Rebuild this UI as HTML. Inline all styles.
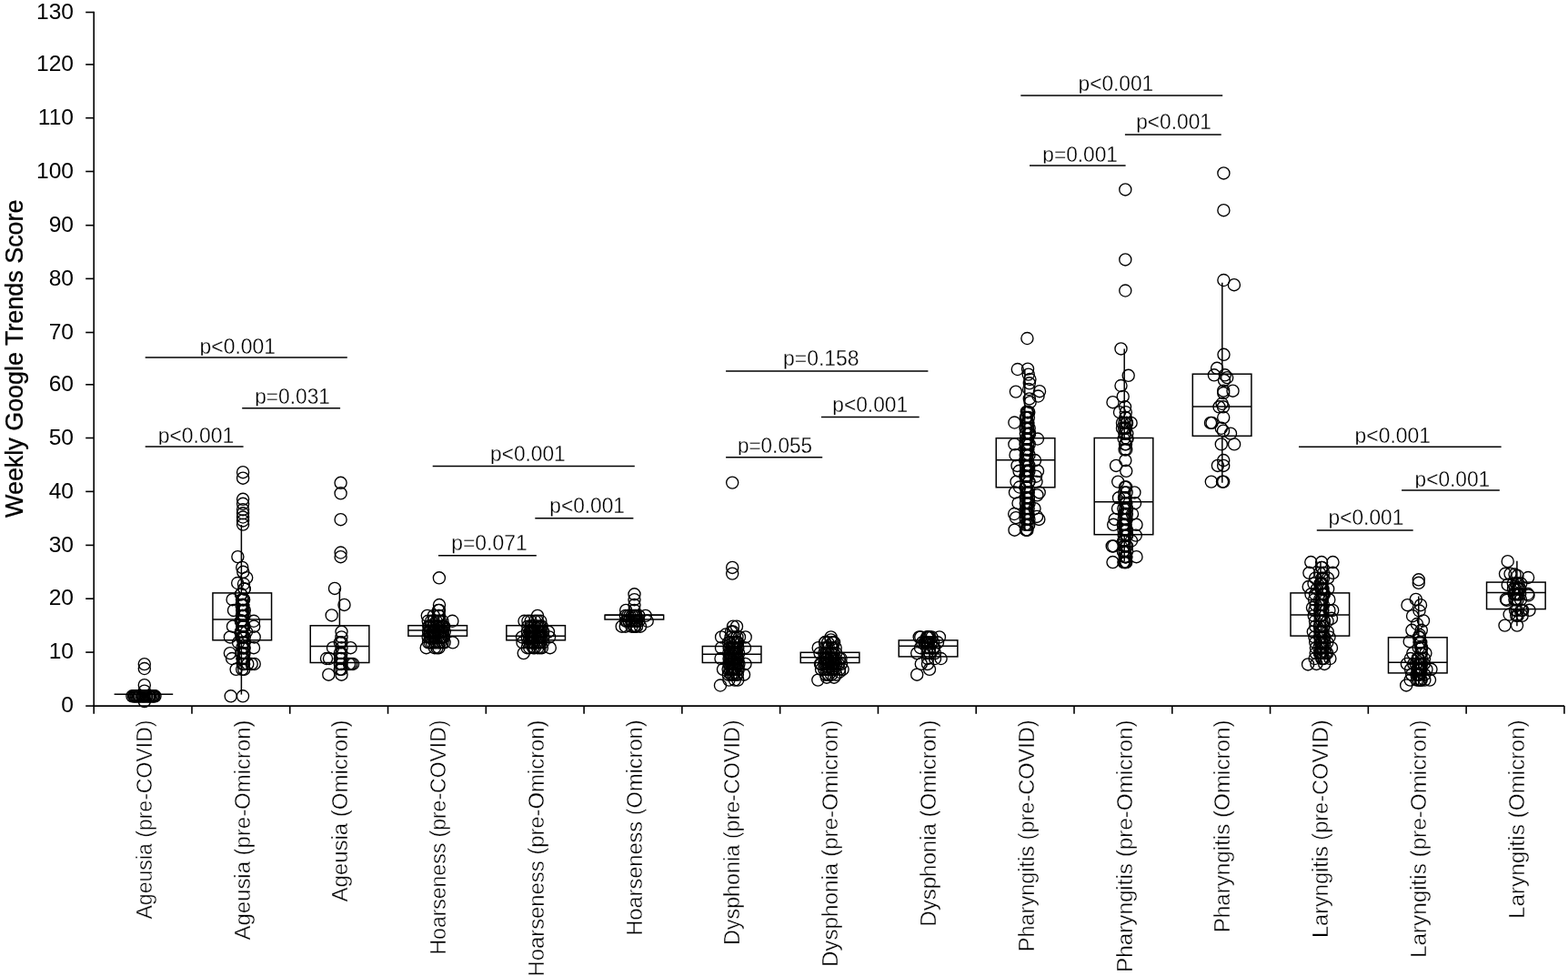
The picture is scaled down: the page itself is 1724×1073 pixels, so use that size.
<!DOCTYPE html>
<html><head><meta charset="utf-8"><title>Weekly Google Trends Score</title>
<style>
html,body{margin:0;padding:0;background:#fff;}
body{width:1724px;height:1073px;overflow:hidden;}
svg{display:block;}
.ax{stroke:#000;stroke-width:1.6;fill:none;}
.bx{stroke:#000;stroke-width:1.5;fill:none;}
.sg{stroke:#000;stroke-width:1.5;}
circle{fill:none;stroke:#000;stroke-width:1.35;}
text{font-family:"Liberation Sans",Arial,sans-serif;fill:#000;}
.tl{font-size:24.6px;}
.xl{font-size:24.4px;stroke:#fff;stroke-width:0.4px;}
.yt{font-size:27px;stroke:#000;stroke-width:0.3px;}
.pv{font-size:23px;stroke:#fff;stroke-width:0.3px;}
</style></head>
<body>
<svg width="1724" height="1073" viewBox="0 0 1724 1073">
<rect width="1724" height="1073" fill="#fff"/>
<line x1="103.2" y1="12.7" x2="103.2" y2="776.1" class="ax"/>
<line x1="94.2" y1="776.10" x2="103.2" y2="776.10" class="ax"/>
<line x1="94.2" y1="717.10" x2="103.2" y2="717.10" class="ax"/>
<line x1="94.2" y1="658.20" x2="103.2" y2="658.20" class="ax"/>
<line x1="94.2" y1="599.40" x2="103.2" y2="599.40" class="ax"/>
<line x1="94.2" y1="540.40" x2="103.2" y2="540.40" class="ax"/>
<line x1="94.2" y1="481.50" x2="103.2" y2="481.50" class="ax"/>
<line x1="94.2" y1="422.80" x2="103.2" y2="422.80" class="ax"/>
<line x1="94.2" y1="365.50" x2="103.2" y2="365.50" class="ax"/>
<line x1="94.2" y1="306.40" x2="103.2" y2="306.40" class="ax"/>
<line x1="94.2" y1="247.70" x2="103.2" y2="247.70" class="ax"/>
<line x1="94.2" y1="188.50" x2="103.2" y2="188.50" class="ax"/>
<line x1="94.2" y1="129.70" x2="103.2" y2="129.70" class="ax"/>
<line x1="94.2" y1="70.90" x2="103.2" y2="70.90" class="ax"/>
<line x1="94.2" y1="13.50" x2="103.2" y2="13.50" class="ax"/>
<line x1="102.3" y1="776.1" x2="1720" y2="776.1" class="ax"/>
<line x1="103.20" y1="776.1" x2="103.20" y2="784.8" class="ax"/>
<line x1="210.98" y1="776.1" x2="210.98" y2="784.8" class="ax"/>
<line x1="318.76" y1="776.1" x2="318.76" y2="784.8" class="ax"/>
<line x1="426.54" y1="776.1" x2="426.54" y2="784.8" class="ax"/>
<line x1="534.32" y1="776.1" x2="534.32" y2="784.8" class="ax"/>
<line x1="642.10" y1="776.1" x2="642.10" y2="784.8" class="ax"/>
<line x1="749.88" y1="776.1" x2="749.88" y2="784.8" class="ax"/>
<line x1="857.66" y1="776.1" x2="857.66" y2="784.8" class="ax"/>
<line x1="965.44" y1="776.1" x2="965.44" y2="784.8" class="ax"/>
<line x1="1073.22" y1="776.1" x2="1073.22" y2="784.8" class="ax"/>
<line x1="1181.00" y1="776.1" x2="1181.00" y2="784.8" class="ax"/>
<line x1="1288.78" y1="776.1" x2="1288.78" y2="784.8" class="ax"/>
<line x1="1396.56" y1="776.1" x2="1396.56" y2="784.8" class="ax"/>
<line x1="1504.34" y1="776.1" x2="1504.34" y2="784.8" class="ax"/>
<line x1="1612.12" y1="776.1" x2="1612.12" y2="784.8" class="ax"/>
<line x1="1719.90" y1="776.1" x2="1719.90" y2="784.8" class="ax"/>
<text x="81" y="783.30" class="tl" text-anchor="end">0</text>
<text x="81" y="724.30" class="tl" text-anchor="end">10</text>
<text x="81" y="665.40" class="tl" text-anchor="end">20</text>
<text x="81" y="606.60" class="tl" text-anchor="end">30</text>
<text x="81" y="547.60" class="tl" text-anchor="end">40</text>
<text x="81" y="488.70" class="tl" text-anchor="end">50</text>
<text x="81" y="430.00" class="tl" text-anchor="end">60</text>
<text x="81" y="372.70" class="tl" text-anchor="end">70</text>
<text x="81" y="313.60" class="tl" text-anchor="end">80</text>
<text x="81" y="254.90" class="tl" text-anchor="end">90</text>
<text x="81" y="195.70" class="tl" text-anchor="end">100</text>
<text x="81" y="136.90" class="tl" text-anchor="end">110</text>
<text x="81" y="78.10" class="tl" text-anchor="end">120</text>
<text x="81" y="20.70" class="tl" text-anchor="end">130</text>
<text transform="translate(25.3,569) rotate(-90)" class="yt" textLength="349.5" lengthAdjust="spacingAndGlyphs">Weekly Google Trends Score</text>
<text transform="translate(166.79,1010.5) rotate(-90)" class="xl" textLength="219.0" lengthAdjust="spacingAndGlyphs">Ageusia (pre-COVID)</text>
<text transform="translate(274.57,1033.5) rotate(-90)" class="xl" textLength="242.0" lengthAdjust="spacingAndGlyphs">Ageusia (pre-Omicron)</text>
<text transform="translate(382.35,991.5) rotate(-90)" class="xl" textLength="200.0" lengthAdjust="spacingAndGlyphs">Ageusia (Omicron)</text>
<text transform="translate(490.13,1049.5) rotate(-90)" class="xl" textLength="258.0" lengthAdjust="spacingAndGlyphs">Hoarseness (pre-COVID)</text>
<text transform="translate(597.91,1073.5) rotate(-90)" class="xl" textLength="282.0" lengthAdjust="spacingAndGlyphs">Hoarseness (pre-Omicron)</text>
<text transform="translate(705.69,1028.7) rotate(-90)" class="xl" textLength="237.2" lengthAdjust="spacingAndGlyphs">Hoarseness (Omicron)</text>
<text transform="translate(813.47,1039.0) rotate(-90)" class="xl" textLength="247.5" lengthAdjust="spacingAndGlyphs">Dysphonia (pre-COVID)</text>
<text transform="translate(921.25,1063.1) rotate(-90)" class="xl" textLength="271.6" lengthAdjust="spacingAndGlyphs">Dysphonia (pre-Omicron)</text>
<text transform="translate(1029.03,1018.7) rotate(-90)" class="xl" textLength="227.2" lengthAdjust="spacingAndGlyphs">Dysphonia (Omicron)</text>
<text transform="translate(1136.81,1046.2) rotate(-90)" class="xl" textLength="254.7" lengthAdjust="spacingAndGlyphs">Pharyngitis (pre-COVID)</text>
<text transform="translate(1244.59,1068.9) rotate(-90)" class="xl" textLength="277.4" lengthAdjust="spacingAndGlyphs">Pharyngitis (pre-Omicron)</text>
<text transform="translate(1352.37,1025.3) rotate(-90)" class="xl" textLength="233.8" lengthAdjust="spacingAndGlyphs">Pharyngitis (Omicron)</text>
<text transform="translate(1460.15,1031.0) rotate(-90)" class="xl" textLength="239.5" lengthAdjust="spacingAndGlyphs">Laryngitis (pre-COVID)</text>
<text transform="translate(1567.93,1053.0) rotate(-90)" class="xl" textLength="261.5" lengthAdjust="spacingAndGlyphs">Laryngitis (pre-Omicron)</text>
<text transform="translate(1675.71,1010.1) rotate(-90)" class="xl" textLength="218.6" lengthAdjust="spacingAndGlyphs">Laryngitis (Omicron)</text>
<line x1="125.60" y1="763.2" x2="190.20" y2="763.2" class="bx"/>
<line x1="265.40" y1="577.0" x2="265.40" y2="651.9" class="bx"/>
<line x1="265.40" y1="703.8" x2="265.40" y2="763.6" class="bx"/>
<rect x="233.95" y="651.9" width="64.60" height="51.90" class="bx"/>
<line x1="233.95" y1="681.0" x2="298.55" y2="681.0" class="bx"/>
<line x1="373.40" y1="646.9" x2="373.40" y2="687.8" class="bx"/>
<rect x="341.25" y="687.8" width="64.60" height="40.70" class="bx"/>
<line x1="341.25" y1="710.6" x2="405.85" y2="710.6" class="bx"/>
<rect x="448.90" y="687.7" width="64.60" height="11.50" class="bx"/>
<line x1="448.90" y1="692.9" x2="513.50" y2="692.9" class="bx"/>
<rect x="556.85" y="687.7" width="64.60" height="16.10" class="bx"/>
<line x1="556.85" y1="699.2" x2="621.45" y2="699.2" class="bx"/>
<rect x="665.05" y="676.2" width="64.60" height="4.80" class="bx"/>
<line x1="665.05" y1="676.2" x2="729.65" y2="676.2" class="bx"/>
<rect x="772.35" y="710.5" width="64.60" height="18.00" class="bx"/>
<line x1="772.35" y1="719.2" x2="836.95" y2="719.2" class="bx"/>
<rect x="880.25" y="717.3" width="64.60" height="11.30" class="bx"/>
<line x1="880.25" y1="722.7" x2="944.85" y2="722.7" class="bx"/>
<rect x="988.25" y="703.9" width="64.60" height="18.00" class="bx"/>
<line x1="988.25" y1="710.2" x2="1052.85" y2="710.2" class="bx"/>
<line x1="1126.80" y1="406.4" x2="1126.80" y2="481.7" class="bx"/>
<line x1="1126.80" y1="535.8" x2="1126.80" y2="583.0" class="bx"/>
<rect x="1095.25" y="481.7" width="64.60" height="54.10" class="bx"/>
<line x1="1095.25" y1="505.8" x2="1159.85" y2="505.8" class="bx"/>
<line x1="1236.20" y1="383.4" x2="1236.20" y2="481.5" class="bx"/>
<line x1="1236.20" y1="587.7" x2="1236.20" y2="617.0" class="bx"/>
<rect x="1203.20" y="481.5" width="64.60" height="106.20" class="bx"/>
<line x1="1203.20" y1="551.7" x2="1267.80" y2="551.7" class="bx"/>
<line x1="1343.80" y1="310.7" x2="1343.80" y2="411.2" class="bx"/>
<line x1="1343.80" y1="479.3" x2="1343.80" y2="530.7" class="bx"/>
<rect x="1311.30" y="411.2" width="64.60" height="68.10" class="bx"/>
<line x1="1311.30" y1="447.1" x2="1375.90" y2="447.1" class="bx"/>
<line x1="1452.00" y1="617.0" x2="1452.00" y2="651.9" class="bx"/>
<line x1="1452.00" y1="699.1" x2="1452.00" y2="730.4" class="bx"/>
<rect x="1419.00" y="651.9" width="64.60" height="47.20" class="bx"/>
<line x1="1419.00" y1="676.0" x2="1483.60" y2="676.0" class="bx"/>
<line x1="1559.80" y1="655.6" x2="1559.80" y2="700.8" class="bx"/>
<line x1="1559.80" y1="739.9" x2="1559.80" y2="753.0" class="bx"/>
<rect x="1526.50" y="700.8" width="64.60" height="39.10" class="bx"/>
<line x1="1526.50" y1="728.3" x2="1591.10" y2="728.3" class="bx"/>
<line x1="1667.90" y1="616.8" x2="1667.90" y2="640.1" class="bx"/>
<line x1="1667.90" y1="669.6" x2="1667.90" y2="688.2" class="bx"/>
<rect x="1634.55" y="640.1" width="64.60" height="29.50" class="bx"/>
<line x1="1634.55" y1="651.6" x2="1699.15" y2="651.6" class="bx"/>
<circle cx="158.80" cy="730.10" r="6.55"/>
<circle cx="158.80" cy="735.00" r="6.55"/>
<circle cx="158.80" cy="753.20" r="6.55"/>
<circle cx="158.80" cy="759.60" r="6.55"/>
<circle cx="158.80" cy="771.10" r="6.55"/>
<circle cx="145.42" cy="765.30" r="6.55"/>
<circle cx="147.05" cy="765.30" r="6.55"/>
<circle cx="147.97" cy="765.30" r="6.55"/>
<circle cx="148.50" cy="765.30" r="6.55"/>
<circle cx="149.71" cy="765.30" r="6.55"/>
<circle cx="150.66" cy="765.30" r="6.55"/>
<circle cx="151.84" cy="765.30" r="6.55"/>
<circle cx="152.95" cy="765.30" r="6.55"/>
<circle cx="153.32" cy="765.30" r="6.55"/>
<circle cx="154.26" cy="765.30" r="6.55"/>
<circle cx="155.97" cy="765.30" r="6.55"/>
<circle cx="156.60" cy="765.30" r="6.55"/>
<circle cx="157.89" cy="765.30" r="6.55"/>
<circle cx="158.20" cy="765.30" r="6.55"/>
<circle cx="159.59" cy="765.30" r="6.55"/>
<circle cx="160.83" cy="765.30" r="6.55"/>
<circle cx="161.38" cy="765.30" r="6.55"/>
<circle cx="163.01" cy="765.30" r="6.55"/>
<circle cx="163.97" cy="765.30" r="6.55"/>
<circle cx="164.18" cy="765.30" r="6.55"/>
<circle cx="165.17" cy="765.30" r="6.55"/>
<circle cx="166.62" cy="765.30" r="6.55"/>
<circle cx="167.97" cy="765.30" r="6.55"/>
<circle cx="168.46" cy="765.30" r="6.55"/>
<circle cx="169.31" cy="765.30" r="6.55"/>
<circle cx="170.48" cy="765.30" r="6.55"/>
<circle cx="267.10" cy="519.20" r="6.55"/>
<circle cx="267.10" cy="525.70" r="6.55"/>
<circle cx="267.10" cy="548.80" r="6.55"/>
<circle cx="267.10" cy="553.80" r="6.55"/>
<circle cx="267.10" cy="560.20" r="6.55"/>
<circle cx="267.10" cy="564.30" r="6.55"/>
<circle cx="267.10" cy="568.50" r="6.55"/>
<circle cx="267.10" cy="572.40" r="6.55"/>
<circle cx="267.10" cy="576.60" r="6.55"/>
<circle cx="261.40" cy="612.10" r="6.55"/>
<circle cx="266.30" cy="623.90" r="6.55"/>
<circle cx="267.30" cy="628.80" r="6.55"/>
<circle cx="271.20" cy="635.10" r="6.55"/>
<circle cx="261.20" cy="641.00" r="6.55"/>
<circle cx="268.00" cy="642.00" r="6.55"/>
<circle cx="268.62" cy="647.44" r="6.55"/>
<circle cx="268.59" cy="647.44" r="6.55"/>
<circle cx="265.03" cy="653.32" r="6.55"/>
<circle cx="265.14" cy="653.32" r="6.55"/>
<circle cx="268.14" cy="659.20" r="6.55"/>
<circle cx="267.74" cy="659.20" r="6.55"/>
<circle cx="267.48" cy="659.20" r="6.55"/>
<circle cx="266.03" cy="659.20" r="6.55"/>
<circle cx="267.22" cy="665.09" r="6.55"/>
<circle cx="267.23" cy="665.09" r="6.55"/>
<circle cx="267.12" cy="665.09" r="6.55"/>
<circle cx="265.43" cy="665.09" r="6.55"/>
<circle cx="266.52" cy="670.98" r="6.55"/>
<circle cx="266.37" cy="670.98" r="6.55"/>
<circle cx="267.69" cy="670.98" r="6.55"/>
<circle cx="268.78" cy="670.98" r="6.55"/>
<circle cx="268.60" cy="676.87" r="6.55"/>
<circle cx="266.98" cy="676.87" r="6.55"/>
<circle cx="266.58" cy="676.87" r="6.55"/>
<circle cx="265.87" cy="676.87" r="6.55"/>
<circle cx="264.94" cy="682.76" r="6.55"/>
<circle cx="264.91" cy="682.76" r="6.55"/>
<circle cx="266.66" cy="682.76" r="6.55"/>
<circle cx="266.07" cy="682.76" r="6.55"/>
<circle cx="266.32" cy="688.65" r="6.55"/>
<circle cx="268.37" cy="688.65" r="6.55"/>
<circle cx="266.90" cy="688.65" r="6.55"/>
<circle cx="267.04" cy="688.65" r="6.55"/>
<circle cx="265.74" cy="694.54" r="6.55"/>
<circle cx="264.90" cy="694.54" r="6.55"/>
<circle cx="266.10" cy="694.54" r="6.55"/>
<circle cx="265.35" cy="694.54" r="6.55"/>
<circle cx="266.84" cy="700.43" r="6.55"/>
<circle cx="268.79" cy="700.43" r="6.55"/>
<circle cx="267.50" cy="700.43" r="6.55"/>
<circle cx="265.53" cy="700.43" r="6.55"/>
<circle cx="268.37" cy="706.32" r="6.55"/>
<circle cx="267.99" cy="706.32" r="6.55"/>
<circle cx="267.74" cy="706.32" r="6.55"/>
<circle cx="268.43" cy="706.32" r="6.55"/>
<circle cx="267.85" cy="712.21" r="6.55"/>
<circle cx="267.96" cy="712.21" r="6.55"/>
<circle cx="266.22" cy="712.21" r="6.55"/>
<circle cx="268.72" cy="712.21" r="6.55"/>
<circle cx="268.65" cy="718.10" r="6.55"/>
<circle cx="265.44" cy="718.10" r="6.55"/>
<circle cx="267.82" cy="718.10" r="6.55"/>
<circle cx="267.66" cy="718.10" r="6.55"/>
<circle cx="266.65" cy="724.00" r="6.55"/>
<circle cx="266.92" cy="724.00" r="6.55"/>
<circle cx="266.76" cy="724.00" r="6.55"/>
<circle cx="268.50" cy="724.00" r="6.55"/>
<circle cx="266.80" cy="729.90" r="6.55"/>
<circle cx="268.13" cy="729.90" r="6.55"/>
<circle cx="266.22" cy="735.80" r="6.55"/>
<circle cx="268.33" cy="735.80" r="6.55"/>
<circle cx="255.60" cy="659.20" r="6.55"/>
<circle cx="257.00" cy="670.98" r="6.55"/>
<circle cx="256.00" cy="688.65" r="6.55"/>
<circle cx="279.20" cy="688.65" r="6.55"/>
<circle cx="279.00" cy="682.76" r="6.55"/>
<circle cx="252.90" cy="700.43" r="6.55"/>
<circle cx="279.70" cy="700.43" r="6.55"/>
<circle cx="252.90" cy="718.10" r="6.55"/>
<circle cx="279.00" cy="712.21" r="6.55"/>
<circle cx="255.10" cy="724.00" r="6.55"/>
<circle cx="259.60" cy="735.80" r="6.55"/>
<circle cx="276.70" cy="729.90" r="6.55"/>
<circle cx="279.70" cy="729.90" r="6.55"/>
<circle cx="272.30" cy="729.90" r="6.55"/>
<circle cx="262.00" cy="706.32" r="6.55"/>
<circle cx="271.00" cy="694.54" r="6.55"/>
<circle cx="253.70" cy="765.30" r="6.55"/>
<circle cx="267.00" cy="765.30" r="6.55"/>
<circle cx="374.60" cy="530.80" r="6.55"/>
<circle cx="374.60" cy="542.30" r="6.55"/>
<circle cx="374.60" cy="571.20" r="6.55"/>
<circle cx="374.60" cy="607.50" r="6.55"/>
<circle cx="374.60" cy="612.20" r="6.55"/>
<circle cx="368.00" cy="646.90" r="6.55"/>
<circle cx="378.50" cy="664.90" r="6.55"/>
<circle cx="364.70" cy="676.40" r="6.55"/>
<circle cx="375.50" cy="694.54" r="6.55"/>
<circle cx="375.50" cy="700.43" r="6.55"/>
<circle cx="375.50" cy="706.32" r="6.55"/>
<circle cx="375.50" cy="712.21" r="6.55"/>
<circle cx="375.50" cy="718.10" r="6.55"/>
<circle cx="375.50" cy="724.00" r="6.55"/>
<circle cx="375.50" cy="729.90" r="6.55"/>
<circle cx="375.50" cy="735.80" r="6.55"/>
<circle cx="375.50" cy="741.70" r="6.55"/>
<circle cx="373.80" cy="706.32" r="6.55"/>
<circle cx="373.80" cy="718.10" r="6.55"/>
<circle cx="373.80" cy="724.00" r="6.55"/>
<circle cx="373.80" cy="735.80" r="6.55"/>
<circle cx="373.80" cy="729.90" r="6.55"/>
<circle cx="385.50" cy="712.21" r="6.55"/>
<circle cx="366.00" cy="712.21" r="6.55"/>
<circle cx="359.00" cy="724.00" r="6.55"/>
<circle cx="362.00" cy="724.00" r="6.55"/>
<circle cx="384.00" cy="729.90" r="6.55"/>
<circle cx="386.00" cy="729.90" r="6.55"/>
<circle cx="388.00" cy="729.90" r="6.55"/>
<circle cx="361.30" cy="741.70" r="6.55"/>
<circle cx="482.90" cy="635.30" r="6.55"/>
<circle cx="483.00" cy="665.09" r="6.55"/>
<circle cx="483.00" cy="670.98" r="6.55"/>
<circle cx="483.00" cy="676.87" r="6.55"/>
<circle cx="482.00" cy="670.98" r="6.55"/>
<circle cx="469.80" cy="676.87" r="6.55"/>
<circle cx="497.40" cy="682.76" r="6.55"/>
<circle cx="468.70" cy="712.21" r="6.55"/>
<circle cx="482.50" cy="712.21" r="6.55"/>
<circle cx="497.80" cy="706.32" r="6.55"/>
<circle cx="470.72" cy="682.76" r="6.55"/>
<circle cx="474.18" cy="682.76" r="6.55"/>
<circle cx="476.47" cy="682.76" r="6.55"/>
<circle cx="479.75" cy="682.76" r="6.55"/>
<circle cx="482.52" cy="682.76" r="6.55"/>
<circle cx="483.87" cy="682.76" r="6.55"/>
<circle cx="486.45" cy="682.76" r="6.55"/>
<circle cx="471.27" cy="688.65" r="6.55"/>
<circle cx="472.03" cy="688.65" r="6.55"/>
<circle cx="473.58" cy="688.65" r="6.55"/>
<circle cx="476.25" cy="688.65" r="6.55"/>
<circle cx="477.08" cy="688.65" r="6.55"/>
<circle cx="479.19" cy="688.65" r="6.55"/>
<circle cx="480.26" cy="688.65" r="6.55"/>
<circle cx="482.07" cy="688.65" r="6.55"/>
<circle cx="482.96" cy="688.65" r="6.55"/>
<circle cx="485.23" cy="688.65" r="6.55"/>
<circle cx="487.15" cy="688.65" r="6.55"/>
<circle cx="488.24" cy="688.65" r="6.55"/>
<circle cx="471.05" cy="694.54" r="6.55"/>
<circle cx="472.42" cy="694.54" r="6.55"/>
<circle cx="473.08" cy="694.54" r="6.55"/>
<circle cx="475.46" cy="694.54" r="6.55"/>
<circle cx="476.70" cy="694.54" r="6.55"/>
<circle cx="477.78" cy="694.54" r="6.55"/>
<circle cx="478.88" cy="694.54" r="6.55"/>
<circle cx="481.44" cy="694.54" r="6.55"/>
<circle cx="482.39" cy="694.54" r="6.55"/>
<circle cx="484.17" cy="694.54" r="6.55"/>
<circle cx="485.84" cy="694.54" r="6.55"/>
<circle cx="487.09" cy="694.54" r="6.55"/>
<circle cx="488.82" cy="694.54" r="6.55"/>
<circle cx="470.64" cy="700.43" r="6.55"/>
<circle cx="472.80" cy="700.43" r="6.55"/>
<circle cx="473.88" cy="700.43" r="6.55"/>
<circle cx="476.16" cy="700.43" r="6.55"/>
<circle cx="477.66" cy="700.43" r="6.55"/>
<circle cx="478.13" cy="700.43" r="6.55"/>
<circle cx="479.77" cy="700.43" r="6.55"/>
<circle cx="481.47" cy="700.43" r="6.55"/>
<circle cx="484.12" cy="700.43" r="6.55"/>
<circle cx="484.95" cy="700.43" r="6.55"/>
<circle cx="486.81" cy="700.43" r="6.55"/>
<circle cx="487.92" cy="700.43" r="6.55"/>
<circle cx="471.07" cy="706.32" r="6.55"/>
<circle cx="472.95" cy="706.32" r="6.55"/>
<circle cx="474.99" cy="706.32" r="6.55"/>
<circle cx="477.55" cy="706.32" r="6.55"/>
<circle cx="479.66" cy="706.32" r="6.55"/>
<circle cx="482.38" cy="706.32" r="6.55"/>
<circle cx="484.07" cy="706.32" r="6.55"/>
<circle cx="486.65" cy="706.32" r="6.55"/>
<circle cx="488.62" cy="706.32" r="6.55"/>
<circle cx="476.82" cy="676.87" r="6.55"/>
<circle cx="482.10" cy="676.87" r="6.55"/>
<circle cx="477.93" cy="712.21" r="6.55"/>
<circle cx="480.50" cy="712.21" r="6.55"/>
<circle cx="591.00" cy="676.87" r="6.55"/>
<circle cx="576.50" cy="682.76" r="6.55"/>
<circle cx="575.70" cy="718.10" r="6.55"/>
<circle cx="604.80" cy="712.21" r="6.55"/>
<circle cx="580.44" cy="682.76" r="6.55"/>
<circle cx="583.61" cy="682.76" r="6.55"/>
<circle cx="588.16" cy="682.76" r="6.55"/>
<circle cx="590.98" cy="682.76" r="6.55"/>
<circle cx="594.30" cy="682.76" r="6.55"/>
<circle cx="580.32" cy="688.65" r="6.55"/>
<circle cx="583.25" cy="688.65" r="6.55"/>
<circle cx="585.04" cy="688.65" r="6.55"/>
<circle cx="586.98" cy="688.65" r="6.55"/>
<circle cx="588.00" cy="688.65" r="6.55"/>
<circle cx="590.57" cy="688.65" r="6.55"/>
<circle cx="592.10" cy="688.65" r="6.55"/>
<circle cx="593.91" cy="688.65" r="6.55"/>
<circle cx="595.79" cy="688.65" r="6.55"/>
<circle cx="579.90" cy="694.54" r="6.55"/>
<circle cx="582.58" cy="694.54" r="6.55"/>
<circle cx="584.08" cy="694.54" r="6.55"/>
<circle cx="585.68" cy="694.54" r="6.55"/>
<circle cx="587.31" cy="694.54" r="6.55"/>
<circle cx="588.05" cy="694.54" r="6.55"/>
<circle cx="589.86" cy="694.54" r="6.55"/>
<circle cx="591.96" cy="694.54" r="6.55"/>
<circle cx="593.75" cy="694.54" r="6.55"/>
<circle cx="595.57" cy="694.54" r="6.55"/>
<circle cx="597.24" cy="694.54" r="6.55"/>
<circle cx="579.69" cy="700.43" r="6.55"/>
<circle cx="581.89" cy="700.43" r="6.55"/>
<circle cx="583.48" cy="700.43" r="6.55"/>
<circle cx="584.76" cy="700.43" r="6.55"/>
<circle cx="585.82" cy="700.43" r="6.55"/>
<circle cx="587.71" cy="700.43" r="6.55"/>
<circle cx="588.70" cy="700.43" r="6.55"/>
<circle cx="591.34" cy="700.43" r="6.55"/>
<circle cx="592.74" cy="700.43" r="6.55"/>
<circle cx="593.81" cy="700.43" r="6.55"/>
<circle cx="594.98" cy="700.43" r="6.55"/>
<circle cx="597.30" cy="700.43" r="6.55"/>
<circle cx="580.52" cy="706.32" r="6.55"/>
<circle cx="582.82" cy="706.32" r="6.55"/>
<circle cx="584.56" cy="706.32" r="6.55"/>
<circle cx="585.81" cy="706.32" r="6.55"/>
<circle cx="587.46" cy="706.32" r="6.55"/>
<circle cx="589.56" cy="706.32" r="6.55"/>
<circle cx="591.09" cy="706.32" r="6.55"/>
<circle cx="592.45" cy="706.32" r="6.55"/>
<circle cx="594.48" cy="706.32" r="6.55"/>
<circle cx="597.11" cy="706.32" r="6.55"/>
<circle cx="579.73" cy="712.21" r="6.55"/>
<circle cx="582.31" cy="712.21" r="6.55"/>
<circle cx="586.22" cy="712.21" r="6.55"/>
<circle cx="587.99" cy="712.21" r="6.55"/>
<circle cx="591.15" cy="712.21" r="6.55"/>
<circle cx="593.58" cy="712.21" r="6.55"/>
<circle cx="595.85" cy="712.21" r="6.55"/>
<circle cx="603.00" cy="694.54" r="6.55"/>
<circle cx="604.00" cy="700.43" r="6.55"/>
<circle cx="574.00" cy="700.43" r="6.55"/>
<circle cx="574.50" cy="706.32" r="6.55"/>
<circle cx="697.50" cy="653.32" r="6.55"/>
<circle cx="697.50" cy="659.20" r="6.55"/>
<circle cx="697.50" cy="665.09" r="6.55"/>
<circle cx="697.50" cy="670.98" r="6.55"/>
<circle cx="697.50" cy="676.87" r="6.55"/>
<circle cx="688.20" cy="670.98" r="6.55"/>
<circle cx="709.80" cy="676.87" r="6.55"/>
<circle cx="683.70" cy="688.65" r="6.55"/>
<circle cx="697.10" cy="688.65" r="6.55"/>
<circle cx="711.70" cy="682.76" r="6.55"/>
<circle cx="704.00" cy="688.65" r="6.55"/>
<circle cx="687.80" cy="676.87" r="6.55"/>
<circle cx="690.15" cy="676.87" r="6.55"/>
<circle cx="692.38" cy="676.87" r="6.55"/>
<circle cx="694.78" cy="676.87" r="6.55"/>
<circle cx="696.52" cy="676.87" r="6.55"/>
<circle cx="699.00" cy="676.87" r="6.55"/>
<circle cx="699.41" cy="676.87" r="6.55"/>
<circle cx="702.37" cy="676.87" r="6.55"/>
<circle cx="688.03" cy="682.76" r="6.55"/>
<circle cx="689.28" cy="682.76" r="6.55"/>
<circle cx="691.36" cy="682.76" r="6.55"/>
<circle cx="691.86" cy="682.76" r="6.55"/>
<circle cx="694.10" cy="682.76" r="6.55"/>
<circle cx="695.46" cy="682.76" r="6.55"/>
<circle cx="697.62" cy="682.76" r="6.55"/>
<circle cx="699.36" cy="682.76" r="6.55"/>
<circle cx="700.21" cy="682.76" r="6.55"/>
<circle cx="702.22" cy="682.76" r="6.55"/>
<circle cx="687.78" cy="688.65" r="6.55"/>
<circle cx="694.47" cy="688.65" r="6.55"/>
<circle cx="698.14" cy="688.65" r="6.55"/>
<circle cx="700.07" cy="688.65" r="6.55"/>
<circle cx="805.20" cy="530.60" r="6.55"/>
<circle cx="805.20" cy="623.90" r="6.55"/>
<circle cx="805.20" cy="630.60" r="6.55"/>
<circle cx="806.00" cy="688.65" r="6.55"/>
<circle cx="810.00" cy="688.65" r="6.55"/>
<circle cx="793.10" cy="700.43" r="6.55"/>
<circle cx="819.70" cy="700.43" r="6.55"/>
<circle cx="792.00" cy="753.50" r="6.55"/>
<circle cx="806.00" cy="694.54" r="6.55"/>
<circle cx="804.00" cy="694.54" r="6.55"/>
<circle cx="798.00" cy="697.49" r="6.55"/>
<circle cx="813.00" cy="700.43" r="6.55"/>
<circle cx="803.56" cy="700.43" r="6.55"/>
<circle cx="807.66" cy="700.43" r="6.55"/>
<circle cx="810.45" cy="700.43" r="6.55"/>
<circle cx="801.07" cy="706.32" r="6.55"/>
<circle cx="802.60" cy="706.32" r="6.55"/>
<circle cx="805.79" cy="706.32" r="6.55"/>
<circle cx="807.45" cy="706.32" r="6.55"/>
<circle cx="809.97" cy="706.32" r="6.55"/>
<circle cx="811.27" cy="706.32" r="6.55"/>
<circle cx="801.61" cy="712.21" r="6.55"/>
<circle cx="802.44" cy="712.21" r="6.55"/>
<circle cx="804.66" cy="712.21" r="6.55"/>
<circle cx="806.06" cy="712.21" r="6.55"/>
<circle cx="807.13" cy="712.21" r="6.55"/>
<circle cx="808.80" cy="712.21" r="6.55"/>
<circle cx="810.50" cy="712.21" r="6.55"/>
<circle cx="811.34" cy="712.21" r="6.55"/>
<circle cx="801.23" cy="718.10" r="6.55"/>
<circle cx="802.87" cy="718.10" r="6.55"/>
<circle cx="803.55" cy="718.10" r="6.55"/>
<circle cx="805.53" cy="718.10" r="6.55"/>
<circle cx="806.72" cy="718.10" r="6.55"/>
<circle cx="808.25" cy="718.10" r="6.55"/>
<circle cx="808.97" cy="718.10" r="6.55"/>
<circle cx="810.01" cy="718.10" r="6.55"/>
<circle cx="812.19" cy="718.10" r="6.55"/>
<circle cx="801.53" cy="724.00" r="6.55"/>
<circle cx="802.43" cy="724.00" r="6.55"/>
<circle cx="803.35" cy="724.00" r="6.55"/>
<circle cx="804.80" cy="724.00" r="6.55"/>
<circle cx="806.66" cy="724.00" r="6.55"/>
<circle cx="807.58" cy="724.00" r="6.55"/>
<circle cx="809.71" cy="724.00" r="6.55"/>
<circle cx="810.61" cy="724.00" r="6.55"/>
<circle cx="811.47" cy="724.00" r="6.55"/>
<circle cx="801.35" cy="729.90" r="6.55"/>
<circle cx="802.33" cy="729.90" r="6.55"/>
<circle cx="804.35" cy="729.90" r="6.55"/>
<circle cx="805.66" cy="729.90" r="6.55"/>
<circle cx="806.52" cy="729.90" r="6.55"/>
<circle cx="808.01" cy="729.90" r="6.55"/>
<circle cx="809.40" cy="729.90" r="6.55"/>
<circle cx="810.87" cy="729.90" r="6.55"/>
<circle cx="812.40" cy="729.90" r="6.55"/>
<circle cx="800.61" cy="735.80" r="6.55"/>
<circle cx="802.56" cy="735.80" r="6.55"/>
<circle cx="804.39" cy="735.80" r="6.55"/>
<circle cx="805.49" cy="735.80" r="6.55"/>
<circle cx="807.37" cy="735.80" r="6.55"/>
<circle cx="808.20" cy="735.80" r="6.55"/>
<circle cx="810.76" cy="735.80" r="6.55"/>
<circle cx="811.78" cy="735.80" r="6.55"/>
<circle cx="800.81" cy="741.70" r="6.55"/>
<circle cx="803.79" cy="741.70" r="6.55"/>
<circle cx="805.16" cy="741.70" r="6.55"/>
<circle cx="806.95" cy="741.70" r="6.55"/>
<circle cx="809.47" cy="741.70" r="6.55"/>
<circle cx="810.85" cy="741.70" r="6.55"/>
<circle cx="801.46" cy="747.60" r="6.55"/>
<circle cx="807.82" cy="747.60" r="6.55"/>
<circle cx="811.21" cy="747.60" r="6.55"/>
<circle cx="793.00" cy="712.21" r="6.55"/>
<circle cx="819.00" cy="712.21" r="6.55"/>
<circle cx="792.50" cy="724.00" r="6.55"/>
<circle cx="819.50" cy="729.90" r="6.55"/>
<circle cx="818.00" cy="741.70" r="6.55"/>
<circle cx="795.00" cy="735.80" r="6.55"/>
<circle cx="913.60" cy="700.43" r="6.55"/>
<circle cx="899.70" cy="712.21" r="6.55"/>
<circle cx="899.30" cy="747.60" r="6.55"/>
<circle cx="926.60" cy="735.80" r="6.55"/>
<circle cx="913.60" cy="703.38" r="6.55"/>
<circle cx="907.00" cy="706.32" r="6.55"/>
<circle cx="917.00" cy="706.32" r="6.55"/>
<circle cx="907.20" cy="706.32" r="6.55"/>
<circle cx="910.15" cy="706.32" r="6.55"/>
<circle cx="915.23" cy="706.32" r="6.55"/>
<circle cx="916.90" cy="706.32" r="6.55"/>
<circle cx="907.24" cy="712.21" r="6.55"/>
<circle cx="909.22" cy="712.21" r="6.55"/>
<circle cx="910.91" cy="712.21" r="6.55"/>
<circle cx="914.18" cy="712.21" r="6.55"/>
<circle cx="915.53" cy="712.21" r="6.55"/>
<circle cx="918.69" cy="712.21" r="6.55"/>
<circle cx="906.23" cy="718.10" r="6.55"/>
<circle cx="908.26" cy="718.10" r="6.55"/>
<circle cx="910.86" cy="718.10" r="6.55"/>
<circle cx="913.59" cy="718.10" r="6.55"/>
<circle cx="914.32" cy="718.10" r="6.55"/>
<circle cx="916.50" cy="718.10" r="6.55"/>
<circle cx="919.23" cy="718.10" r="6.55"/>
<circle cx="907.58" cy="724.00" r="6.55"/>
<circle cx="908.75" cy="724.00" r="6.55"/>
<circle cx="910.21" cy="724.00" r="6.55"/>
<circle cx="912.88" cy="724.00" r="6.55"/>
<circle cx="913.16" cy="724.00" r="6.55"/>
<circle cx="916.19" cy="724.00" r="6.55"/>
<circle cx="917.04" cy="724.00" r="6.55"/>
<circle cx="918.56" cy="724.00" r="6.55"/>
<circle cx="906.27" cy="729.90" r="6.55"/>
<circle cx="908.32" cy="729.90" r="6.55"/>
<circle cx="910.87" cy="729.90" r="6.55"/>
<circle cx="911.62" cy="729.90" r="6.55"/>
<circle cx="914.00" cy="729.90" r="6.55"/>
<circle cx="915.84" cy="729.90" r="6.55"/>
<circle cx="917.17" cy="729.90" r="6.55"/>
<circle cx="919.20" cy="729.90" r="6.55"/>
<circle cx="906.25" cy="735.80" r="6.55"/>
<circle cx="908.58" cy="735.80" r="6.55"/>
<circle cx="911.22" cy="735.80" r="6.55"/>
<circle cx="914.55" cy="735.80" r="6.55"/>
<circle cx="916.35" cy="735.80" r="6.55"/>
<circle cx="918.44" cy="735.80" r="6.55"/>
<circle cx="908.02" cy="741.70" r="6.55"/>
<circle cx="911.10" cy="741.70" r="6.55"/>
<circle cx="914.12" cy="741.70" r="6.55"/>
<circle cx="919.18" cy="741.70" r="6.55"/>
<circle cx="906.23" cy="724.00" r="6.55"/>
<circle cx="909.39" cy="724.00" r="6.55"/>
<circle cx="914.47" cy="724.00" r="6.55"/>
<circle cx="922.85" cy="724.00" r="6.55"/>
<circle cx="902.84" cy="729.90" r="6.55"/>
<circle cx="910.13" cy="729.90" r="6.55"/>
<circle cx="916.04" cy="729.90" r="6.55"/>
<circle cx="921.80" cy="729.90" r="6.55"/>
<circle cx="903.00" cy="735.80" r="6.55"/>
<circle cx="910.90" cy="735.80" r="6.55"/>
<circle cx="915.75" cy="735.80" r="6.55"/>
<circle cx="922.99" cy="735.80" r="6.55"/>
<circle cx="901.50" cy="718.10" r="6.55"/>
<circle cx="902.00" cy="729.90" r="6.55"/>
<circle cx="924.50" cy="724.00" r="6.55"/>
<circle cx="925.00" cy="729.90" r="6.55"/>
<circle cx="923.00" cy="738.75" r="6.55"/>
<circle cx="909.00" cy="744.65" r="6.55"/>
<circle cx="917.00" cy="744.65" r="6.55"/>
<circle cx="1010.70" cy="700.43" r="6.55"/>
<circle cx="1012.30" cy="700.43" r="6.55"/>
<circle cx="1019.50" cy="700.43" r="6.55"/>
<circle cx="1021.00" cy="700.43" r="6.55"/>
<circle cx="1032.90" cy="700.43" r="6.55"/>
<circle cx="1014.00" cy="706.32" r="6.55"/>
<circle cx="1019.50" cy="706.32" r="6.55"/>
<circle cx="1021.00" cy="706.32" r="6.55"/>
<circle cx="1026.00" cy="706.32" r="6.55"/>
<circle cx="1031.00" cy="706.32" r="6.55"/>
<circle cx="1012.00" cy="712.21" r="6.55"/>
<circle cx="1019.50" cy="712.21" r="6.55"/>
<circle cx="1026.00" cy="712.21" r="6.55"/>
<circle cx="1008.20" cy="718.10" r="6.55"/>
<circle cx="1019.50" cy="718.10" r="6.55"/>
<circle cx="1028.00" cy="718.10" r="6.55"/>
<circle cx="1034.60" cy="724.00" r="6.55"/>
<circle cx="1020.00" cy="724.00" r="6.55"/>
<circle cx="1028.00" cy="724.00" r="6.55"/>
<circle cx="1012.80" cy="729.90" r="6.55"/>
<circle cx="1020.00" cy="729.90" r="6.55"/>
<circle cx="1022.00" cy="735.80" r="6.55"/>
<circle cx="1008.20" cy="741.70" r="6.55"/>
<circle cx="1019.44" cy="700.43" r="6.55"/>
<circle cx="1022.17" cy="700.43" r="6.55"/>
<circle cx="1024.44" cy="700.43" r="6.55"/>
<circle cx="1018.58" cy="706.32" r="6.55"/>
<circle cx="1016.43" cy="706.32" r="6.55"/>
<circle cx="1020.23" cy="706.32" r="6.55"/>
<circle cx="1023.74" cy="706.32" r="6.55"/>
<circle cx="1017.35" cy="706.32" r="6.55"/>
<circle cx="1027.00" cy="712.21" r="6.55"/>
<circle cx="1027.00" cy="712.21" r="6.55"/>
<circle cx="1022.19" cy="712.21" r="6.55"/>
<circle cx="1022.15" cy="718.10" r="6.55"/>
<circle cx="1022.43" cy="718.10" r="6.55"/>
<circle cx="1129.40" cy="372.00" r="6.55"/>
<circle cx="1118.80" cy="406.00" r="6.55"/>
<circle cx="1130.00" cy="405.60" r="6.55"/>
<circle cx="1130.70" cy="411.60" r="6.55"/>
<circle cx="1132.40" cy="417.00" r="6.55"/>
<circle cx="1131.80" cy="421.30" r="6.55"/>
<circle cx="1116.90" cy="430.60" r="6.55"/>
<circle cx="1143.00" cy="430.20" r="6.55"/>
<circle cx="1131.20" cy="428.00" r="6.55"/>
<circle cx="1141.50" cy="435.50" r="6.55"/>
<circle cx="1131.80" cy="438.40" r="6.55"/>
<circle cx="1132.60" cy="442.20" r="6.55"/>
<circle cx="1128.80" cy="452.60" r="6.55"/>
<circle cx="1115.40" cy="464.50" r="6.55"/>
<circle cx="1129.43" cy="582.70" r="6.55"/>
<circle cx="1129.02" cy="582.70" r="6.55"/>
<circle cx="1127.94" cy="582.70" r="6.55"/>
<circle cx="1131.29" cy="576.80" r="6.55"/>
<circle cx="1127.33" cy="576.80" r="6.55"/>
<circle cx="1129.61" cy="576.80" r="6.55"/>
<circle cx="1131.43" cy="570.90" r="6.55"/>
<circle cx="1127.67" cy="570.90" r="6.55"/>
<circle cx="1129.85" cy="570.90" r="6.55"/>
<circle cx="1130.14" cy="565.00" r="6.55"/>
<circle cx="1127.49" cy="565.00" r="6.55"/>
<circle cx="1129.04" cy="565.00" r="6.55"/>
<circle cx="1130.54" cy="565.00" r="6.55"/>
<circle cx="1129.38" cy="559.10" r="6.55"/>
<circle cx="1130.64" cy="559.10" r="6.55"/>
<circle cx="1128.02" cy="559.10" r="6.55"/>
<circle cx="1128.39" cy="559.10" r="6.55"/>
<circle cx="1127.81" cy="553.20" r="6.55"/>
<circle cx="1129.63" cy="553.20" r="6.55"/>
<circle cx="1131.55" cy="553.20" r="6.55"/>
<circle cx="1130.02" cy="553.20" r="6.55"/>
<circle cx="1130.86" cy="547.30" r="6.55"/>
<circle cx="1129.06" cy="547.30" r="6.55"/>
<circle cx="1130.73" cy="547.30" r="6.55"/>
<circle cx="1127.77" cy="547.30" r="6.55"/>
<circle cx="1128.64" cy="541.40" r="6.55"/>
<circle cx="1130.40" cy="541.40" r="6.55"/>
<circle cx="1130.64" cy="541.40" r="6.55"/>
<circle cx="1129.24" cy="541.40" r="6.55"/>
<circle cx="1127.70" cy="535.51" r="6.55"/>
<circle cx="1128.53" cy="535.51" r="6.55"/>
<circle cx="1128.27" cy="535.51" r="6.55"/>
<circle cx="1128.59" cy="535.51" r="6.55"/>
<circle cx="1131.02" cy="529.62" r="6.55"/>
<circle cx="1128.22" cy="529.62" r="6.55"/>
<circle cx="1131.38" cy="529.62" r="6.55"/>
<circle cx="1131.35" cy="529.62" r="6.55"/>
<circle cx="1127.55" cy="523.73" r="6.55"/>
<circle cx="1129.04" cy="523.73" r="6.55"/>
<circle cx="1129.56" cy="523.73" r="6.55"/>
<circle cx="1127.41" cy="523.73" r="6.55"/>
<circle cx="1129.25" cy="517.84" r="6.55"/>
<circle cx="1131.47" cy="517.84" r="6.55"/>
<circle cx="1127.82" cy="517.84" r="6.55"/>
<circle cx="1130.05" cy="517.84" r="6.55"/>
<circle cx="1127.86" cy="511.95" r="6.55"/>
<circle cx="1129.96" cy="511.95" r="6.55"/>
<circle cx="1131.42" cy="511.95" r="6.55"/>
<circle cx="1128.23" cy="511.95" r="6.55"/>
<circle cx="1127.34" cy="506.06" r="6.55"/>
<circle cx="1127.68" cy="506.06" r="6.55"/>
<circle cx="1129.78" cy="506.06" r="6.55"/>
<circle cx="1127.38" cy="506.06" r="6.55"/>
<circle cx="1127.69" cy="500.17" r="6.55"/>
<circle cx="1129.59" cy="500.17" r="6.55"/>
<circle cx="1131.54" cy="500.17" r="6.55"/>
<circle cx="1129.23" cy="500.17" r="6.55"/>
<circle cx="1129.13" cy="494.28" r="6.55"/>
<circle cx="1130.24" cy="494.28" r="6.55"/>
<circle cx="1127.73" cy="494.28" r="6.55"/>
<circle cx="1129.97" cy="494.28" r="6.55"/>
<circle cx="1128.09" cy="488.39" r="6.55"/>
<circle cx="1130.10" cy="488.39" r="6.55"/>
<circle cx="1131.71" cy="488.39" r="6.55"/>
<circle cx="1127.55" cy="488.39" r="6.55"/>
<circle cx="1129.85" cy="482.50" r="6.55"/>
<circle cx="1130.09" cy="482.50" r="6.55"/>
<circle cx="1127.99" cy="482.50" r="6.55"/>
<circle cx="1128.53" cy="482.50" r="6.55"/>
<circle cx="1131.88" cy="476.63" r="6.55"/>
<circle cx="1131.89" cy="476.63" r="6.55"/>
<circle cx="1127.86" cy="476.63" r="6.55"/>
<circle cx="1130.55" cy="476.63" r="6.55"/>
<circle cx="1131.67" cy="470.76" r="6.55"/>
<circle cx="1128.39" cy="470.76" r="6.55"/>
<circle cx="1130.11" cy="470.76" r="6.55"/>
<circle cx="1127.50" cy="470.76" r="6.55"/>
<circle cx="1128.98" cy="464.89" r="6.55"/>
<circle cx="1130.40" cy="464.89" r="6.55"/>
<circle cx="1130.02" cy="464.89" r="6.55"/>
<circle cx="1130.86" cy="459.02" r="6.55"/>
<circle cx="1127.70" cy="459.02" r="6.55"/>
<circle cx="1128.90" cy="459.02" r="6.55"/>
<circle cx="1131.27" cy="453.15" r="6.55"/>
<circle cx="1129.99" cy="453.15" r="6.55"/>
<circle cx="1129.38" cy="453.15" r="6.55"/>
<circle cx="1115.40" cy="488.39" r="6.55"/>
<circle cx="1116.50" cy="500.17" r="6.55"/>
<circle cx="1118.50" cy="511.95" r="6.55"/>
<circle cx="1117.50" cy="529.62" r="6.55"/>
<circle cx="1116.00" cy="541.40" r="6.55"/>
<circle cx="1119.50" cy="553.20" r="6.55"/>
<circle cx="1115.20" cy="565.00" r="6.55"/>
<circle cx="1117.00" cy="569.13" r="6.55"/>
<circle cx="1115.50" cy="582.70" r="6.55"/>
<circle cx="1120.50" cy="517.84" r="6.55"/>
<circle cx="1121.00" cy="535.51" r="6.55"/>
<circle cx="1140.90" cy="482.50" r="6.55"/>
<circle cx="1141.00" cy="517.84" r="6.55"/>
<circle cx="1139.50" cy="529.62" r="6.55"/>
<circle cx="1142.70" cy="541.40" r="6.55"/>
<circle cx="1140.40" cy="544.35" r="6.55"/>
<circle cx="1142.30" cy="570.90" r="6.55"/>
<circle cx="1140.00" cy="567.95" r="6.55"/>
<circle cx="1138.00" cy="506.06" r="6.55"/>
<circle cx="1137.50" cy="559.10" r="6.55"/>
<circle cx="1139.00" cy="523.73" r="6.55"/>
<circle cx="1237.30" cy="208.40" r="6.55"/>
<circle cx="1237.30" cy="285.40" r="6.55"/>
<circle cx="1237.30" cy="319.50" r="6.55"/>
<circle cx="1232.50" cy="383.40" r="6.55"/>
<circle cx="1240.70" cy="412.80" r="6.55"/>
<circle cx="1232.50" cy="424.00" r="6.55"/>
<circle cx="1234.70" cy="435.90" r="6.55"/>
<circle cx="1223.50" cy="442.20" r="6.55"/>
<circle cx="1237.00" cy="447.28" r="6.55"/>
<circle cx="1231.00" cy="453.15" r="6.55"/>
<circle cx="1234.00" cy="464.89" r="6.55"/>
<circle cx="1239.00" cy="464.89" r="6.55"/>
<circle cx="1243.60" cy="464.89" r="6.55"/>
<circle cx="1234.00" cy="470.76" r="6.55"/>
<circle cx="1237.79" cy="453.15" r="6.55"/>
<circle cx="1237.22" cy="459.02" r="6.55"/>
<circle cx="1237.81" cy="459.02" r="6.55"/>
<circle cx="1236.32" cy="464.89" r="6.55"/>
<circle cx="1238.75" cy="464.89" r="6.55"/>
<circle cx="1238.79" cy="464.89" r="6.55"/>
<circle cx="1238.11" cy="470.76" r="6.55"/>
<circle cx="1236.14" cy="470.76" r="6.55"/>
<circle cx="1237.58" cy="470.76" r="6.55"/>
<circle cx="1236.81" cy="476.63" r="6.55"/>
<circle cx="1236.50" cy="476.63" r="6.55"/>
<circle cx="1239.31" cy="476.63" r="6.55"/>
<circle cx="1239.49" cy="482.50" r="6.55"/>
<circle cx="1235.68" cy="482.50" r="6.55"/>
<circle cx="1238.94" cy="482.50" r="6.55"/>
<circle cx="1237.91" cy="488.39" r="6.55"/>
<circle cx="1237.03" cy="488.39" r="6.55"/>
<circle cx="1236.63" cy="494.28" r="6.55"/>
<circle cx="1238.20" cy="494.28" r="6.55"/>
<circle cx="1237.33" cy="506.06" r="6.55"/>
<circle cx="1238.24" cy="517.84" r="6.55"/>
<circle cx="1227.10" cy="511.95" r="6.55"/>
<circle cx="1229.20" cy="529.62" r="6.55"/>
<circle cx="1235.37" cy="618.04" r="6.55"/>
<circle cx="1236.79" cy="618.04" r="6.55"/>
<circle cx="1238.25" cy="618.04" r="6.55"/>
<circle cx="1237.95" cy="618.04" r="6.55"/>
<circle cx="1238.07" cy="612.16" r="6.55"/>
<circle cx="1236.69" cy="612.16" r="6.55"/>
<circle cx="1238.38" cy="612.16" r="6.55"/>
<circle cx="1237.15" cy="612.16" r="6.55"/>
<circle cx="1235.07" cy="606.28" r="6.55"/>
<circle cx="1236.80" cy="606.28" r="6.55"/>
<circle cx="1234.92" cy="606.28" r="6.55"/>
<circle cx="1238.99" cy="606.28" r="6.55"/>
<circle cx="1239.06" cy="600.40" r="6.55"/>
<circle cx="1236.24" cy="600.40" r="6.55"/>
<circle cx="1236.12" cy="600.40" r="6.55"/>
<circle cx="1238.23" cy="600.40" r="6.55"/>
<circle cx="1235.64" cy="594.50" r="6.55"/>
<circle cx="1235.52" cy="594.50" r="6.55"/>
<circle cx="1235.57" cy="594.50" r="6.55"/>
<circle cx="1236.30" cy="594.50" r="6.55"/>
<circle cx="1237.58" cy="588.60" r="6.55"/>
<circle cx="1239.13" cy="588.60" r="6.55"/>
<circle cx="1235.67" cy="588.60" r="6.55"/>
<circle cx="1239.10" cy="588.60" r="6.55"/>
<circle cx="1237.25" cy="582.70" r="6.55"/>
<circle cx="1238.85" cy="582.70" r="6.55"/>
<circle cx="1238.46" cy="582.70" r="6.55"/>
<circle cx="1235.44" cy="582.70" r="6.55"/>
<circle cx="1237.68" cy="576.80" r="6.55"/>
<circle cx="1235.27" cy="576.80" r="6.55"/>
<circle cx="1234.73" cy="576.80" r="6.55"/>
<circle cx="1236.52" cy="576.80" r="6.55"/>
<circle cx="1238.26" cy="570.90" r="6.55"/>
<circle cx="1237.30" cy="570.90" r="6.55"/>
<circle cx="1235.59" cy="570.90" r="6.55"/>
<circle cx="1238.57" cy="570.90" r="6.55"/>
<circle cx="1238.90" cy="565.00" r="6.55"/>
<circle cx="1235.79" cy="565.00" r="6.55"/>
<circle cx="1236.76" cy="565.00" r="6.55"/>
<circle cx="1237.63" cy="565.00" r="6.55"/>
<circle cx="1238.85" cy="559.10" r="6.55"/>
<circle cx="1235.28" cy="559.10" r="6.55"/>
<circle cx="1237.25" cy="559.10" r="6.55"/>
<circle cx="1239.16" cy="559.10" r="6.55"/>
<circle cx="1237.50" cy="553.20" r="6.55"/>
<circle cx="1238.00" cy="553.20" r="6.55"/>
<circle cx="1238.26" cy="553.20" r="6.55"/>
<circle cx="1237.03" cy="553.20" r="6.55"/>
<circle cx="1236.03" cy="547.30" r="6.55"/>
<circle cx="1237.42" cy="547.30" r="6.55"/>
<circle cx="1237.13" cy="547.30" r="6.55"/>
<circle cx="1236.28" cy="547.30" r="6.55"/>
<circle cx="1238.63" cy="541.40" r="6.55"/>
<circle cx="1236.37" cy="541.40" r="6.55"/>
<circle cx="1236.92" cy="535.51" r="6.55"/>
<circle cx="1238.20" cy="535.51" r="6.55"/>
<circle cx="1247.40" cy="541.40" r="6.55"/>
<circle cx="1248.00" cy="553.20" r="6.55"/>
<circle cx="1225.70" cy="570.90" r="6.55"/>
<circle cx="1224.20" cy="576.80" r="6.55"/>
<circle cx="1249.50" cy="576.80" r="6.55"/>
<circle cx="1248.80" cy="588.60" r="6.55"/>
<circle cx="1222.70" cy="600.40" r="6.55"/>
<circle cx="1224.30" cy="600.40" r="6.55"/>
<circle cx="1249.50" cy="612.16" r="6.55"/>
<circle cx="1223.50" cy="618.04" r="6.55"/>
<circle cx="1236.50" cy="618.04" r="6.55"/>
<circle cx="1229.00" cy="559.10" r="6.55"/>
<circle cx="1230.00" cy="547.30" r="6.55"/>
<circle cx="1245.00" cy="565.00" r="6.55"/>
<circle cx="1244.00" cy="594.50" r="6.55"/>
<circle cx="1345.40" cy="190.40" r="6.55"/>
<circle cx="1345.40" cy="231.20" r="6.55"/>
<circle cx="1345.40" cy="308.00" r="6.55"/>
<circle cx="1356.90" cy="313.20" r="6.55"/>
<circle cx="1345.50" cy="389.80" r="6.55"/>
<circle cx="1338.10" cy="404.80" r="6.55"/>
<circle cx="1334.90" cy="412.34" r="6.55"/>
<circle cx="1346.80" cy="412.34" r="6.55"/>
<circle cx="1349.20" cy="415.20" r="6.55"/>
<circle cx="1346.00" cy="418.07" r="6.55"/>
<circle cx="1345.20" cy="429.67" r="6.55"/>
<circle cx="1355.50" cy="429.67" r="6.55"/>
<circle cx="1345.20" cy="432.02" r="6.55"/>
<circle cx="1343.60" cy="443.76" r="6.55"/>
<circle cx="1340.50" cy="447.28" r="6.55"/>
<circle cx="1345.00" cy="447.28" r="6.55"/>
<circle cx="1345.20" cy="459.02" r="6.55"/>
<circle cx="1332.50" cy="464.89" r="6.55"/>
<circle cx="1331.00" cy="464.89" r="6.55"/>
<circle cx="1342.80" cy="470.76" r="6.55"/>
<circle cx="1345.00" cy="473.69" r="6.55"/>
<circle cx="1353.00" cy="476.63" r="6.55"/>
<circle cx="1342.80" cy="488.39" r="6.55"/>
<circle cx="1357.10" cy="488.39" r="6.55"/>
<circle cx="1345.20" cy="506.06" r="6.55"/>
<circle cx="1338.90" cy="511.95" r="6.55"/>
<circle cx="1345.20" cy="511.95" r="6.55"/>
<circle cx="1331.80" cy="529.62" r="6.55"/>
<circle cx="1345.20" cy="529.62" r="6.55"/>
<circle cx="1344.00" cy="529.62" r="6.55"/>
<circle cx="1441.30" cy="618.04" r="6.55"/>
<circle cx="1453.10" cy="618.04" r="6.55"/>
<circle cx="1465.50" cy="618.04" r="6.55"/>
<circle cx="1439.40" cy="629.80" r="6.55"/>
<circle cx="1465.50" cy="629.80" r="6.55"/>
<circle cx="1438.70" cy="645.09" r="6.55"/>
<circle cx="1453.27" cy="724.00" r="6.55"/>
<circle cx="1454.19" cy="724.00" r="6.55"/>
<circle cx="1454.23" cy="718.10" r="6.55"/>
<circle cx="1451.61" cy="718.10" r="6.55"/>
<circle cx="1450.95" cy="718.10" r="6.55"/>
<circle cx="1452.77" cy="718.10" r="6.55"/>
<circle cx="1452.27" cy="712.21" r="6.55"/>
<circle cx="1454.95" cy="712.21" r="6.55"/>
<circle cx="1454.35" cy="712.21" r="6.55"/>
<circle cx="1453.91" cy="712.21" r="6.55"/>
<circle cx="1453.69" cy="706.32" r="6.55"/>
<circle cx="1454.21" cy="706.32" r="6.55"/>
<circle cx="1451.63" cy="706.32" r="6.55"/>
<circle cx="1453.10" cy="706.32" r="6.55"/>
<circle cx="1451.71" cy="700.43" r="6.55"/>
<circle cx="1455.43" cy="700.43" r="6.55"/>
<circle cx="1451.19" cy="700.43" r="6.55"/>
<circle cx="1454.99" cy="700.43" r="6.55"/>
<circle cx="1451.27" cy="694.54" r="6.55"/>
<circle cx="1454.33" cy="694.54" r="6.55"/>
<circle cx="1452.58" cy="694.54" r="6.55"/>
<circle cx="1452.92" cy="694.54" r="6.55"/>
<circle cx="1455.11" cy="688.65" r="6.55"/>
<circle cx="1450.99" cy="688.65" r="6.55"/>
<circle cx="1451.20" cy="688.65" r="6.55"/>
<circle cx="1455.48" cy="688.65" r="6.55"/>
<circle cx="1453.44" cy="682.76" r="6.55"/>
<circle cx="1451.35" cy="682.76" r="6.55"/>
<circle cx="1455.84" cy="682.76" r="6.55"/>
<circle cx="1455.63" cy="682.76" r="6.55"/>
<circle cx="1451.46" cy="676.87" r="6.55"/>
<circle cx="1453.02" cy="676.87" r="6.55"/>
<circle cx="1451.58" cy="676.87" r="6.55"/>
<circle cx="1452.46" cy="676.87" r="6.55"/>
<circle cx="1454.01" cy="670.98" r="6.55"/>
<circle cx="1451.72" cy="670.98" r="6.55"/>
<circle cx="1454.38" cy="670.98" r="6.55"/>
<circle cx="1451.16" cy="670.98" r="6.55"/>
<circle cx="1451.76" cy="665.09" r="6.55"/>
<circle cx="1454.98" cy="665.09" r="6.55"/>
<circle cx="1452.90" cy="665.09" r="6.55"/>
<circle cx="1452.99" cy="665.09" r="6.55"/>
<circle cx="1453.88" cy="659.20" r="6.55"/>
<circle cx="1453.28" cy="659.20" r="6.55"/>
<circle cx="1452.82" cy="659.20" r="6.55"/>
<circle cx="1451.05" cy="659.20" r="6.55"/>
<circle cx="1454.53" cy="653.32" r="6.55"/>
<circle cx="1455.74" cy="653.32" r="6.55"/>
<circle cx="1455.78" cy="653.32" r="6.55"/>
<circle cx="1454.22" cy="653.32" r="6.55"/>
<circle cx="1452.68" cy="647.44" r="6.55"/>
<circle cx="1452.72" cy="647.44" r="6.55"/>
<circle cx="1454.35" cy="647.44" r="6.55"/>
<circle cx="1454.27" cy="647.44" r="6.55"/>
<circle cx="1451.47" cy="641.56" r="6.55"/>
<circle cx="1452.07" cy="641.56" r="6.55"/>
<circle cx="1452.72" cy="641.56" r="6.55"/>
<circle cx="1453.46" cy="641.56" r="6.55"/>
<circle cx="1454.95" cy="635.68" r="6.55"/>
<circle cx="1453.40" cy="635.68" r="6.55"/>
<circle cx="1451.04" cy="629.80" r="6.55"/>
<circle cx="1455.01" cy="629.80" r="6.55"/>
<circle cx="1453.05" cy="623.92" r="6.55"/>
<circle cx="1453.49" cy="623.92" r="6.55"/>
<circle cx="1443.81" cy="694.54" r="6.55"/>
<circle cx="1459.73" cy="694.54" r="6.55"/>
<circle cx="1445.39" cy="700.43" r="6.55"/>
<circle cx="1456.14" cy="700.43" r="6.55"/>
<circle cx="1461.49" cy="700.43" r="6.55"/>
<circle cx="1446.22" cy="706.32" r="6.55"/>
<circle cx="1456.29" cy="706.32" r="6.55"/>
<circle cx="1459.32" cy="706.32" r="6.55"/>
<circle cx="1446.88" cy="712.21" r="6.55"/>
<circle cx="1450.26" cy="712.21" r="6.55"/>
<circle cx="1457.02" cy="712.21" r="6.55"/>
<circle cx="1463.97" cy="712.21" r="6.55"/>
<circle cx="1446.67" cy="718.10" r="6.55"/>
<circle cx="1451.17" cy="718.10" r="6.55"/>
<circle cx="1457.66" cy="718.10" r="6.55"/>
<circle cx="1459.30" cy="718.10" r="6.55"/>
<circle cx="1445.60" cy="724.00" r="6.55"/>
<circle cx="1455.77" cy="724.00" r="6.55"/>
<circle cx="1462.40" cy="724.00" r="6.55"/>
<circle cx="1447.42" cy="729.90" r="6.55"/>
<circle cx="1456.22" cy="729.90" r="6.55"/>
<circle cx="1446.36" cy="688.65" r="6.55"/>
<circle cx="1446.01" cy="682.76" r="6.55"/>
<circle cx="1459.61" cy="682.76" r="6.55"/>
<circle cx="1444.68" cy="676.87" r="6.55"/>
<circle cx="1445.48" cy="670.98" r="6.55"/>
<circle cx="1461.44" cy="670.98" r="6.55"/>
<circle cx="1446.57" cy="665.09" r="6.55"/>
<circle cx="1445.06" cy="659.20" r="6.55"/>
<circle cx="1461.34" cy="659.20" r="6.55"/>
<circle cx="1446.03" cy="653.32" r="6.55"/>
<circle cx="1447.98" cy="647.44" r="6.55"/>
<circle cx="1460.20" cy="647.44" r="6.55"/>
<circle cx="1444.52" cy="641.56" r="6.55"/>
<circle cx="1446.17" cy="635.68" r="6.55"/>
<circle cx="1459.91" cy="635.68" r="6.55"/>
<circle cx="1441.50" cy="653.32" r="6.55"/>
<circle cx="1465.20" cy="670.98" r="6.55"/>
<circle cx="1464.00" cy="679.82" r="6.55"/>
<circle cx="1443.00" cy="668.04" r="6.55"/>
<circle cx="1438.10" cy="730.40" r="6.55"/>
<circle cx="1559.80" cy="637.30" r="6.55"/>
<circle cx="1559.80" cy="640.80" r="6.55"/>
<circle cx="1556.80" cy="658.90" r="6.55"/>
<circle cx="1547.50" cy="665.20" r="6.55"/>
<circle cx="1562.00" cy="665.20" r="6.55"/>
<circle cx="1560.50" cy="671.50" r="6.55"/>
<circle cx="1565.00" cy="682.40" r="6.55"/>
<circle cx="1553.10" cy="677.20" r="6.55"/>
<circle cx="1552.40" cy="692.80" r="6.55"/>
<circle cx="1562.80" cy="692.80" r="6.55"/>
<circle cx="1549.70" cy="705.20" r="6.55"/>
<circle cx="1558.00" cy="686.00" r="6.55"/>
<circle cx="1561.00" cy="698.00" r="6.55"/>
<circle cx="1559.80" cy="747.60" r="6.55"/>
<circle cx="1561.93" cy="747.60" r="6.55"/>
<circle cx="1561.92" cy="747.60" r="6.55"/>
<circle cx="1562.75" cy="747.60" r="6.55"/>
<circle cx="1559.43" cy="741.70" r="6.55"/>
<circle cx="1559.65" cy="741.70" r="6.55"/>
<circle cx="1559.24" cy="741.70" r="6.55"/>
<circle cx="1559.63" cy="741.70" r="6.55"/>
<circle cx="1562.17" cy="735.80" r="6.55"/>
<circle cx="1559.15" cy="735.80" r="6.55"/>
<circle cx="1561.16" cy="735.80" r="6.55"/>
<circle cx="1559.57" cy="735.80" r="6.55"/>
<circle cx="1559.97" cy="729.90" r="6.55"/>
<circle cx="1560.66" cy="729.90" r="6.55"/>
<circle cx="1562.69" cy="729.90" r="6.55"/>
<circle cx="1561.54" cy="729.90" r="6.55"/>
<circle cx="1558.57" cy="724.00" r="6.55"/>
<circle cx="1559.88" cy="724.00" r="6.55"/>
<circle cx="1559.23" cy="724.00" r="6.55"/>
<circle cx="1562.86" cy="724.00" r="6.55"/>
<circle cx="1562.55" cy="718.10" r="6.55"/>
<circle cx="1562.53" cy="718.10" r="6.55"/>
<circle cx="1562.63" cy="718.10" r="6.55"/>
<circle cx="1562.22" cy="718.10" r="6.55"/>
<circle cx="1563.25" cy="712.21" r="6.55"/>
<circle cx="1562.47" cy="712.21" r="6.55"/>
<circle cx="1559.78" cy="712.21" r="6.55"/>
<circle cx="1562.75" cy="712.21" r="6.55"/>
<circle cx="1560.93" cy="706.32" r="6.55"/>
<circle cx="1562.28" cy="706.32" r="6.55"/>
<circle cx="1561.32" cy="706.32" r="6.55"/>
<circle cx="1560.65" cy="706.32" r="6.55"/>
<circle cx="1560.32" cy="700.43" r="6.55"/>
<circle cx="1560.65" cy="700.43" r="6.55"/>
<circle cx="1560.07" cy="700.43" r="6.55"/>
<circle cx="1553.34" cy="718.10" r="6.55"/>
<circle cx="1567.43" cy="718.10" r="6.55"/>
<circle cx="1550.86" cy="724.00" r="6.55"/>
<circle cx="1558.72" cy="724.00" r="6.55"/>
<circle cx="1566.01" cy="724.00" r="6.55"/>
<circle cx="1554.28" cy="729.90" r="6.55"/>
<circle cx="1556.82" cy="729.90" r="6.55"/>
<circle cx="1562.92" cy="729.90" r="6.55"/>
<circle cx="1565.70" cy="729.90" r="6.55"/>
<circle cx="1551.02" cy="735.80" r="6.55"/>
<circle cx="1558.40" cy="735.80" r="6.55"/>
<circle cx="1562.74" cy="735.80" r="6.55"/>
<circle cx="1568.49" cy="735.80" r="6.55"/>
<circle cx="1552.24" cy="741.70" r="6.55"/>
<circle cx="1557.45" cy="741.70" r="6.55"/>
<circle cx="1561.15" cy="741.70" r="6.55"/>
<circle cx="1566.26" cy="741.70" r="6.55"/>
<circle cx="1550.64" cy="747.60" r="6.55"/>
<circle cx="1558.01" cy="747.60" r="6.55"/>
<circle cx="1566.37" cy="747.60" r="6.55"/>
<circle cx="1546.90" cy="729.90" r="6.55"/>
<circle cx="1573.50" cy="735.80" r="6.55"/>
<circle cx="1546.20" cy="753.40" r="6.55"/>
<circle cx="1572.00" cy="747.60" r="6.55"/>
<circle cx="1657.70" cy="617.20" r="6.55"/>
<circle cx="1655.00" cy="630.80" r="6.55"/>
<circle cx="1660.50" cy="630.80" r="6.55"/>
<circle cx="1665.50" cy="631.50" r="6.55"/>
<circle cx="1668.50" cy="633.00" r="6.55"/>
<circle cx="1680.10" cy="635.00" r="6.55"/>
<circle cx="1663.83" cy="641.56" r="6.55"/>
<circle cx="1667.29" cy="641.56" r="6.55"/>
<circle cx="1669.43" cy="641.56" r="6.55"/>
<circle cx="1672.27" cy="641.56" r="6.55"/>
<circle cx="1664.03" cy="647.44" r="6.55"/>
<circle cx="1665.80" cy="647.44" r="6.55"/>
<circle cx="1668.38" cy="647.44" r="6.55"/>
<circle cx="1670.06" cy="647.44" r="6.55"/>
<circle cx="1671.28" cy="647.44" r="6.55"/>
<circle cx="1664.70" cy="653.32" r="6.55"/>
<circle cx="1666.03" cy="653.32" r="6.55"/>
<circle cx="1668.45" cy="653.32" r="6.55"/>
<circle cx="1669.18" cy="653.32" r="6.55"/>
<circle cx="1671.15" cy="653.32" r="6.55"/>
<circle cx="1665.44" cy="659.20" r="6.55"/>
<circle cx="1666.59" cy="659.20" r="6.55"/>
<circle cx="1668.64" cy="659.20" r="6.55"/>
<circle cx="1671.99" cy="659.20" r="6.55"/>
<circle cx="1657.70" cy="642.90" r="6.55"/>
<circle cx="1680.00" cy="653.00" r="6.55"/>
<circle cx="1680.50" cy="654.50" r="6.55"/>
<circle cx="1655.90" cy="658.70" r="6.55"/>
<circle cx="1656.80" cy="659.80" r="6.55"/>
<circle cx="1666.05" cy="670.98" r="6.55"/>
<circle cx="1667.73" cy="670.98" r="6.55"/>
<circle cx="1672.77" cy="670.98" r="6.55"/>
<circle cx="1674.13" cy="670.98" r="6.55"/>
<circle cx="1667.21" cy="676.87" r="6.55"/>
<circle cx="1668.71" cy="676.87" r="6.55"/>
<circle cx="1673.67" cy="676.87" r="6.55"/>
<circle cx="1659.60" cy="675.50" r="6.55"/>
<circle cx="1681.50" cy="670.80" r="6.55"/>
<circle cx="1654.50" cy="687.60" r="6.55"/>
<circle cx="1668.00" cy="687.60" r="6.55"/>
<clipPath id="pc0"><rect x="0" y="0" width="1724" height="390.7"/></clipPath>
<text x="219.6" y="389.4" class="pv" clip-path="url(#pc0)" textLength="83.5" lengthAdjust="spacingAndGlyphs">p&lt;0.001</text>
<line x1="159.7" y1="393.1" x2="381.8" y2="393.1" class="sg"/>
<clipPath id="pc1"><rect x="0" y="0" width="1724" height="446.3"/></clipPath>
<text x="280.2" y="444.4" class="pv" clip-path="url(#pc1)" textLength="82.8" lengthAdjust="spacingAndGlyphs">p=0.031</text>
<line x1="266.2" y1="448.7" x2="374.1" y2="448.7" class="sg"/>
<clipPath id="pc2"><rect x="0" y="0" width="1724" height="488.7"/></clipPath>
<text x="173.7" y="487.0" class="pv" clip-path="url(#pc2)" textLength="83.5" lengthAdjust="spacingAndGlyphs">p&lt;0.001</text>
<line x1="159.7" y1="491.1" x2="267.6" y2="491.1" class="sg"/>
<clipPath id="pc3"><rect x="0" y="0" width="1724" height="510.1"/></clipPath>
<text x="539.0" y="506.5" class="pv" clip-path="url(#pc3)" textLength="82.7" lengthAdjust="spacingAndGlyphs">p&lt;0.001</text>
<line x1="475.7" y1="512.5" x2="697.8" y2="512.5" class="sg"/>
<clipPath id="pc4"><rect x="0" y="0" width="1724" height="567.4"/></clipPath>
<text x="604.3" y="563.7" class="pv" clip-path="url(#pc4)" textLength="82.7" lengthAdjust="spacingAndGlyphs">p&lt;0.001</text>
<line x1="588.3" y1="569.8" x2="696.4" y2="569.8" class="sg"/>
<clipPath id="pc5"><rect x="0" y="0" width="1724" height="608.3"/></clipPath>
<text x="496.3" y="605.0" class="pv" clip-path="url(#pc5)" textLength="83.3" lengthAdjust="spacingAndGlyphs">p=0.071</text>
<line x1="482.0" y1="610.7" x2="589.8" y2="610.7" class="sg"/>
<clipPath id="pc6"><rect x="0" y="0" width="1724" height="405.6"/></clipPath>
<text x="861.0" y="401.7" class="pv" clip-path="url(#pc6)" textLength="83.5" lengthAdjust="spacingAndGlyphs">p=0.158</text>
<line x1="798.1" y1="408.0" x2="1020.4" y2="408.0" class="sg"/>
<clipPath id="pc7"><rect x="0" y="0" width="1724" height="456.1"/></clipPath>
<text x="915.3" y="452.5" class="pv" clip-path="url(#pc7)" textLength="82.8" lengthAdjust="spacingAndGlyphs">p&lt;0.001</text>
<line x1="903.0" y1="458.5" x2="1010.7" y2="458.5" class="sg"/>
<clipPath id="pc8"><rect x="0" y="0" width="1724" height="500.3"/></clipPath>
<text x="810.9" y="498.4" class="pv" clip-path="url(#pc8)" textLength="82.1" lengthAdjust="spacingAndGlyphs">p=0.055</text>
<line x1="798.1" y1="502.7" x2="904.2" y2="502.7" class="sg"/>
<clipPath id="pc9"><rect x="0" y="0" width="1724" height="102.6"/></clipPath>
<text x="1185.5" y="99.7" class="pv" clip-path="url(#pc9)" textLength="82.7" lengthAdjust="spacingAndGlyphs">p&lt;0.001</text>
<line x1="1122.3" y1="105.0" x2="1344.2" y2="105.0" class="sg"/>
<clipPath id="pc10"><rect x="0" y="0" width="1724" height="145.5"/></clipPath>
<text x="1249.2" y="141.6" class="pv" clip-path="url(#pc10)" textLength="82.7" lengthAdjust="spacingAndGlyphs">p&lt;0.001</text>
<line x1="1236.9" y1="147.9" x2="1342.7" y2="147.9" class="sg"/>
<clipPath id="pc11"><rect x="0" y="0" width="1724" height="179.6"/></clipPath>
<text x="1146.3" y="178.2" class="pv" clip-path="url(#pc11)" textLength="82.6" lengthAdjust="spacingAndGlyphs">p=0.001</text>
<line x1="1132.0" y1="182.0" x2="1237.6" y2="182.0" class="sg"/>
<clipPath id="pc12"><rect x="0" y="0" width="1724" height="488.8"/></clipPath>
<text x="1489.6" y="487.0" class="pv" clip-path="url(#pc12)" textLength="83.4" lengthAdjust="spacingAndGlyphs">p&lt;0.001</text>
<line x1="1428.0" y1="491.2" x2="1650.6" y2="491.2" class="sg"/>
<clipPath id="pc13"><rect x="0" y="0" width="1724" height="536.6"/></clipPath>
<text x="1555.6" y="534.9" class="pv" clip-path="url(#pc13)" textLength="82.6" lengthAdjust="spacingAndGlyphs">p&lt;0.001</text>
<line x1="1541.1" y1="539.0" x2="1648.8" y2="539.0" class="sg"/>
<clipPath id="pc14"><rect x="0" y="0" width="1724" height="580.6"/></clipPath>
<text x="1460.6" y="576.9" class="pv" clip-path="url(#pc14)" textLength="82.7" lengthAdjust="spacingAndGlyphs">p&lt;0.001</text>
<line x1="1447.8" y1="583.0" x2="1553.7" y2="583.0" class="sg"/>
</svg>
</body></html>
